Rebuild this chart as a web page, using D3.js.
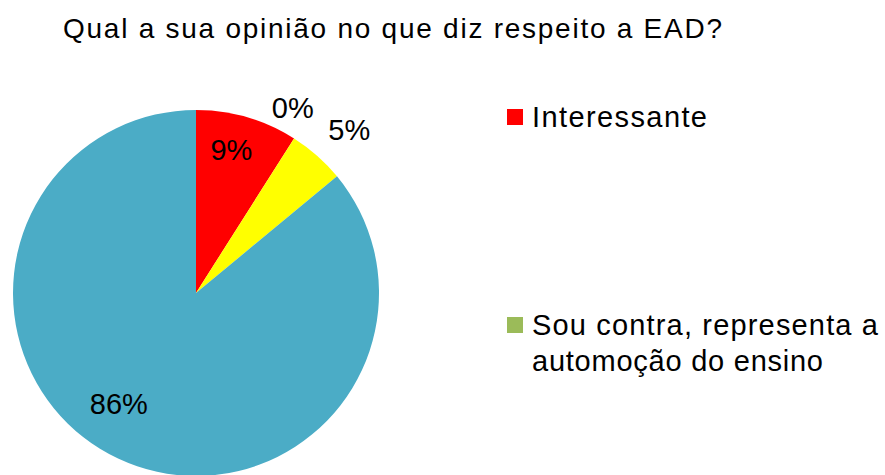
<!DOCTYPE html>
<html>
<head>
<meta charset="utf-8">
<script src="https://cdn.jsdelivr.net/npm/d3@7"></script>
<style>
  html, body { margin: 0; padding: 0; background: #fff; }
  svg { display: block; font-family: "Liberation Sans", Arial, sans-serif; }
</style>
</head>
<body>
<svg id="chart" width="885" height="475"></svg>
<script>
const title = "Qual a sua opinião no que diz respeito a EAD?";
const categories = ["Interessante", "Indiferente", "Sou contra, representa a automoção do ensino", "Outro"];
const values = [9, 0, 5, 86];
const labels = ["9%", "0%", "5%", "86%"];
const colors = ["#FF0000", "#9BBB59", "#FFFF00", "#4BACC6"];
const legendItems = [
  { name: ["Interessante"], color: "#FF0000" },
  { name: ["Sou contra, representa a", "automoção do ensino"], color: "#9BBB59" }
];

const svg = d3.select("#chart");
const cx = 196, cy = 293, R = 183;

svg.append("text")
  .attr("x", 63).attr("y", 38)
  .attr("font-size", 28)
  .attr("fill", "#000")
  .attr("textLength", 659)
  .attr("lengthAdjust", "spacing")
  .text(title);

const pie = d3.pie().sort(null).value(d => d)(values);
const arc = d3.arc().innerRadius(0).outerRadius(R);
const g = svg.append("g").attr("transform", `translate(${cx},${cy})`);

g.selectAll("path.slice")
  .data(pie)
  .join("path")
  .attr("class", "slice")
  .attr("d", arc)
  .attr("fill", (d, i) => colors[i]);

// label placement: inside labels on inner arc, outside labels beyond edge
const labelR = [0.79, 1.15, 1.2, 0.76];
const nudge = [[-5, -4], [-16, -7], [8, 2], [-18, -15]];
g.selectAll("text.lbl")
  .data(pie)
  .join("text")
  .attr("class", "lbl")
  .attr("text-anchor", "middle")
  .attr("dominant-baseline", "central")
  .attr("font-size", 29)
  .attr("fill", "#000")
  .attr("transform", (d, i) => {
    const a = (d.startAngle + d.endAngle) / 2;
    const r = R * labelR[i];
    const x = r * Math.sin(a) + nudge[i][0];
    const y = -r * Math.cos(a) + nudge[i][1];
    return `translate(${x},${y})`;
  })
  .text((d, i) => labels[i]);

// legend
const legendY = [117, 325];
const lineWidths = [[175], [346, 291]];
const lg = svg.append("g");
legendItems.forEach((item, i) => {
  const y0 = legendY[i];
  lg.append("rect")
    .attr("x", 507).attr("y", y0 - 8)
    .attr("width", 16).attr("height", 16)
    .attr("fill", item.color);
  item.name.forEach((line, j) => {
    lg.append("text")
      .attr("x", 532).attr("y", y0 + 10 + j * 36)
      .attr("font-size", 29)
      .attr("fill", "#000")
      .attr("textLength", lineWidths[i][j])
      .attr("lengthAdjust", "spacing")
      .text(line);
  });
});
</script>
</body>
</html>
